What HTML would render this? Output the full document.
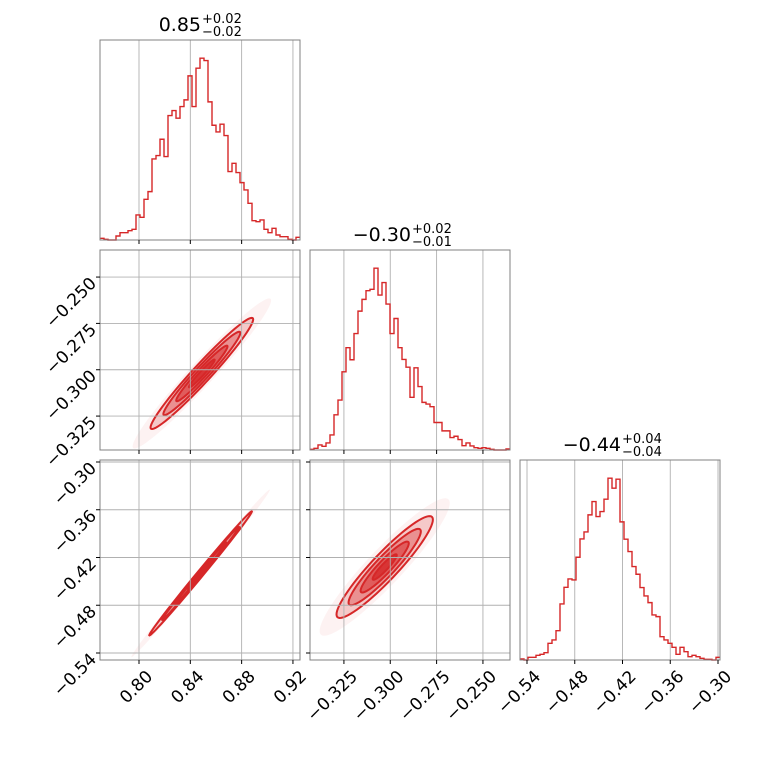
<!DOCTYPE html>
<html><head><meta charset="utf-8"><style>
html,body{margin:0;padding:0;background:#fff}
svg{display:block;font-family:"DejaVu Sans","Liberation Sans",sans-serif}
</style></head><body>
<svg id="c" width="760" height="760" viewBox="0 0 760 760"></svg>
<script>
// ---- data ----
const p1Ticks=[0.80,0.84,0.88,0.92];
const p1Labels=["0.80","0.84","0.88","0.92"];
const p2Ticks=[-0.325,-0.300,-0.275,-0.250];
const p2Labels=["\u22120.325","\u22120.300","\u22120.275","\u22120.250"];
const p3Ticks=[-0.54,-0.48,-0.42,-0.36,-0.30];
const p3Labels=["\u22120.54","\u22120.48","\u22120.42","\u22120.36","\u22120.30"];
const p1Range=[0.7696,0.9255];
const p2Range=[-0.3433,-0.2354];
const p3Range=[-0.5488,-0.2975];
const hist1=[5,2,0,0,12,22,22,28,32,75,68,122,145,243,253,302,250,373,388,365,400,420,492,400,515,545,538,414,344,324,347,313,205,230,202,172,150,110,58,55,60,32,22,35,15,10,10,2,0,8];
const hist2=[2,5,15,11,21,45,105,149,233,305,269,347,414,449,475,479,542,462,499,435,347,392,305,270,247,157,245,189,142,137,129,82,82,57,57,37,41,31,13,21,12,7,5,7,5,2,0,0,0,3];
const hist3=[3,0,8,8,14,17,22,50,60,88,168,218,243,240,308,363,384,435,475,430,445,482,545,515,542,414,362,325,280,257,217,192,172,135,130,70,60,50,38,17,38,25,10,14,10,5,2,2,0,8];
const titles=[["0.85","+0.02","\u22120.02"],["\u22120.30","+0.02","\u22120.01"],["\u22120.44","+0.04","\u22120.04"]];
// 2D gaussian summaries: [meanX, meanY, sdX, sdY, rho]
const pair12=[0.849,-0.302,0.0200,0.0150,0.972];
const pair13=[0.848,-0.440,0.0200,0.0390,0.997];
const pair23=[-0.303,-0.432,0.0130,0.0320,0.93];
const sigmaLevels=[2,1.5,1,0.5];

const svg=document.getElementById('c');
const NS='http://www.w3.org/2000/svg';
const RED='#d62728';
function mk(tag,attrs,parent){const e=document.createElementNS(NS,tag);for(const k in attrs)e.setAttribute(k,attrs[k]);(parent||svg).appendChild(e);return e;}
function scale(r,a,b){return v=>a+(v-r[0])/(r[1]-r[0])*(b-a);}
const cols=[100,310,520], rows=[40,250,460], S=200;
const ranges=[p1Range,p2Range,p3Range];
const ticks=[p1Ticks,p2Ticks,p3Ticks];
const labels=[p1Labels,p2Labels,p3Labels];

function panel(name){
  const g=mk('g',{});
  
  
  return g;
}
function frame(g,x0,y0){
  const r=mk('rect',{x:x0,y:y0,width:S,height:S,fill:'none',stroke:'#808080','stroke-width':1},g);
  
  
}
function xAxis(g,i,x0,y0,withLabels){
  const sx=scale(ranges[i],x0,x0+S);
  ticks[i].forEach((t,k)=>{
    const x=sx(t);
    mk('line',{x1:x,x2:x,y1:y0+S,y2:y0+S+4,stroke:'#000','stroke-width':1},g);
    if(withLabels){
      const tx=mk('text',{transform:`translate(${x+6},${y0+S+9}) rotate(-45)`,'text-anchor':'end',y:12,'font-size':17,fill:'#000'},g);
      tx.textContent=labels[i][k];
      
      
    }
  });
}
function yAxis(g,i,x0,y0){
  const sy=scale(ranges[i],y0+S,y0);
  ticks[i].forEach((t,k)=>{
    const y=sy(t);
    mk('line',{x1:x0-4,x2:x0,y1:y,y2:y,stroke:'#000','stroke-width':1},g);
    const tx=mk('text',{transform:`translate(${x0-7},${y+3}) rotate(-45)`,'text-anchor':'end',y:6,'font-size':17,fill:'#000'},g);
    tx.textContent=labels[i][k];
    
    
  });
}
function vgrid(g,i,x0,y0){
  const sx=scale(ranges[i],x0,x0+S);
  ticks[i].forEach(t=>{const x=sx(t);if(x>x0&&x<x0+S)mk('line',{x1:x,x2:x,y1:y0,y2:y0+S,stroke:'#b0b0b0','stroke-width':0.9},g);});
}
function hgrid(g,i,x0,y0){
  const sy=scale(ranges[i],y0+S,y0);
  ticks[i].forEach(t=>{const y=sy(t);if(y>y0&&y<y0+S)mk('line',{x1:x0,x2:x0+S,y1:y,y2:y,stroke:'#b0b0b0','stroke-width':0.9},g);});
}
function histo(i,counts,name){
  const x0=cols[i],y0=rows[i];
  const g=panel(name);
  vgrid(g,i,x0,y0);
  const mx=Math.max(...counts)*1.1;
  const sy=v=>y0+S-v/mx*S;
  const r=ranges[i],n=counts.length,sx=scale(r,x0,x0+S);
  let d='';
  counts.forEach((c,k)=>{
    const a=sx(r[0]+(r[1]-r[0])*k/n),b=sx(r[0]+(r[1]-r[0])*(k+1)/n);
    d+=(k===0?`M${a},${sy(c)}`:`L${a},${sy(c)}`)+`L${b},${sy(c)}`;
  });
  const p=mk('path',{d:d,fill:'none',stroke:RED,'stroke-width':1.4},g);
  
  
  frame(g,x0,y0);
  xAxis(g,i,x0,y0,i===2);
  const t=titles[i];
  const cx=x0+S/2+1;
  const tt=mk('text',{x:cx,y:y0-9,'text-anchor':'end','font-size':19,fill:'#000'},g);
  tt.textContent=t[0];
  
  
  const sp=mk('text',{x:cx+1,y:y0-17,'font-size':13,fill:'#000'},g);
  sp.textContent=t[1];
  
  
  const sb=mk('text',{x:cx+1,y:y0-4,'font-size':13,fill:'#000'},g);
  sb.textContent=t[2];
  
  
}
function ellipsePath(pr,k,sx,sy){
  const [mx,my,sdx,sdy,rho]=pr;
  const a=sdx, b=rho*sdy, c=sdy*Math.sqrt(1-rho*rho);
  let d='';
  for(let j=0;j<=72;j++){
    const th=j/72*2*Math.PI, u=k*Math.cos(th), v=k*Math.sin(th);
    const X=mx+a*u, Y=my+b*u+c*v;
    d+=(j?'L':'M')+sx(X).toFixed(2)+','+sy(Y).toFixed(2);
  }
  return d+'Z';
}
function pairPanel(ci,ri,pr,name){
  const x0=cols[ci],y0=rows[ri];
  const g=panel(name);
  const clip=mk('clipPath',{id:'cl'+ci+ri},g);
  mk('rect',{x:x0,y:y0,width:S,height:S},clip);
  const sx=scale(ranges[ci],x0,x0+S), sy=scale(ranges[ri],y0+S,y0);
  const cg=mk('g',{'clip-path':`url(#cl${ci}${ri})`},g);
  const halo=mk('path',{d:ellipsePath(pr,2.7,sx,sy),fill:RED,'fill-opacity':0.06},cg);
  
  
  vgrid(g,ci,x0,y0);hgrid(g,ri,x0,y0);
  const ops=[0.2,0.35,0.5,0.75];
  sigmaLevels.forEach((k,j)=>{
    const e=mk('path',{d:ellipsePath(pr,k,sx,sy),fill:RED,'fill-opacity':ops[j],stroke:RED,'stroke-width':2},cg);
    
    
  });
  frame(g,x0,y0);
  xAxis(g,ci,x0,y0,ri===2);
  if(ci===0)yAxis(g,ri,x0,y0);
  else ticks[ri].forEach(t=>{const y=sy(t);mk('line',{x1:x0-4,x2:x0,y1:y,y2:y,stroke:'#000'},g);});
}
histo(0,hist1,'histogram-param1');
histo(1,hist2,'histogram-param2');
histo(2,hist3,'histogram-param3');
pairPanel(0,1,pair12,'scatter-p1-p2');
pairPanel(0,2,pair13,'scatter-p1-p3');
pairPanel(1,2,pair23,'scatter-p2-p3');
</script>
</body></html>
